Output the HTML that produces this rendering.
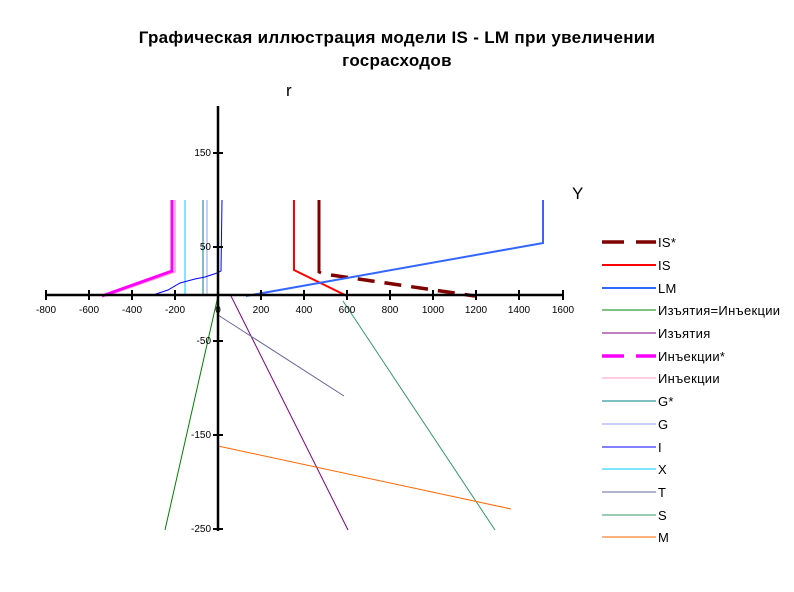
<!DOCTYPE html><html><head><meta charset="utf-8"><style>body{margin:0;background:#fff}svg{display:block}</style></head><body>
<svg width="794" height="592" xmlns="http://www.w3.org/2000/svg" font-family="Liberation Sans, DejaVu Sans, sans-serif">
<rect width="794" height="592" fill="#fff"/>
<text x="397" y="43" font-size="17" font-weight="bold" text-anchor="middle" letter-spacing="0.3">Графическая иллюстрация модели IS - LM при увеличении</text>
<text x="397" y="66" font-size="17" font-weight="bold" text-anchor="middle" letter-spacing="0.3">госрасходов</text>
<text x="286" y="96" font-size="17">r</text>
<text x="572" y="199" font-size="17">Y</text>
<g fill="none" stroke-width="1">
<line x1="218" y1="296" x2="165" y2="530" stroke="#008000"/>
<line x1="231" y1="296" x2="348" y2="530" stroke="#800080"/>
<line x1="218" y1="315" x2="344" y2="396" stroke="#666699"/>
<line x1="343" y1="301" x2="495" y2="530" stroke="#339966"/>
<line x1="218" y1="446" x2="511" y2="509" stroke="#ff6600"/>
<line x1="185" y1="200" x2="185" y2="295" stroke="#00ccff"/>
<line x1="203" y1="200" x2="203" y2="295" stroke="#008080"/>
<line x1="207" y1="200" x2="207" y2="295" stroke="#9999ff"/>
<polyline points="153,295 168,290 180,283 195,279 205,277 217,273 221,271 222,200" stroke="#0000ff"/>
<polyline points="175,200 175,272 106,296" stroke="#ff99cc" stroke-width="1.5"/>
<polyline points="172,200 172,271 102,296" stroke="#ff00ff" stroke-width="3"/>
<polyline points="294,200 294,270 347,296" stroke="#ff0000" stroke-width="2"/>
<polyline points="319,200 319,272 321,273" stroke="#800000" stroke-width="3"/>
<line x1="331" y1="275" x2="475" y2="296" stroke="#800000" stroke-width="3.5" stroke-dasharray="17,10"/>
<polyline points="246,296 543,243 543,200" stroke="#3366ff" stroke-width="2"/>
</g>
<g stroke="#000" stroke-width="2.5">
<line x1="218" y1="106" x2="218" y2="531"/>
<line x1="45" y1="295" x2="564" y2="295"/>
</g>
<g stroke="#000" stroke-width="2">
<line x1="46" y1="290" x2="46" y2="300"/><line x1="89" y1="290" x2="89" y2="300"/><line x1="132" y1="290" x2="132" y2="300"/><line x1="175" y1="290" x2="175" y2="300"/><line x1="261" y1="290" x2="261" y2="300"/><line x1="304" y1="290" x2="304" y2="300"/><line x1="347" y1="290" x2="347" y2="300"/><line x1="390" y1="290" x2="390" y2="300"/><line x1="433" y1="290" x2="433" y2="300"/><line x1="476" y1="290" x2="476" y2="300"/><line x1="519" y1="290" x2="519" y2="300"/><line x1="563" y1="290" x2="563" y2="300"/>
<line x1="213" y1="153" x2="223" y2="153"/><line x1="213" y1="247" x2="223" y2="247"/><line x1="213" y1="341" x2="223" y2="341"/><line x1="213" y1="435" x2="223" y2="435"/><line x1="213" y1="529" x2="223" y2="529"/>
</g>
<g font-size="10" text-anchor="middle">
<text x="46" y="313">-800</text><text x="89" y="313">-600</text><text x="132" y="313">-400</text><text x="175" y="313">-200</text><text x="218" y="313">0</text><text x="261" y="313">200</text><text x="304" y="313">400</text><text x="347" y="313">600</text><text x="390" y="313">800</text><text x="433" y="313">1000</text><text x="476" y="313">1200</text><text x="519" y="313">1400</text><text x="563" y="313">1600</text>
</g>
<g font-size="10" text-anchor="end">
<text x="211" y="156">150</text><text x="211" y="250">50</text><text x="211" y="344">-50</text><text x="211" y="438">-150</text><text x="211" y="532">-250</text>
</g>
<g fill="none">
<line x1="602" y1="242" x2="656" y2="242" stroke="#800000" stroke-width="3.5" stroke-dasharray="22,12"/>
<line x1="602" y1="265" x2="656" y2="265" stroke="#ff0000" stroke-width="2"/>
<line x1="602" y1="288" x2="656" y2="288" stroke="#3366ff" stroke-width="2"/>
<line x1="602" y1="310" x2="656" y2="310" stroke="#008000"/>
<line x1="602" y1="333" x2="656" y2="333" stroke="#800080"/>
<line x1="602" y1="356" x2="656" y2="356" stroke="#ff00ff" stroke-width="3.5" stroke-dasharray="22,12"/>
<line x1="602" y1="378" x2="656" y2="378" stroke="#ff99cc"/>
<line x1="602" y1="401" x2="656" y2="401" stroke="#008080"/>
<line x1="602" y1="424" x2="656" y2="424" stroke="#9999ff"/>
<line x1="602" y1="447" x2="656" y2="447" stroke="#0000ff"/>
<line x1="602" y1="469" x2="656" y2="469" stroke="#00ccff"/>
<line x1="602" y1="492" x2="656" y2="492" stroke="#666699"/>
<line x1="602" y1="515" x2="656" y2="515" stroke="#339966"/>
<line x1="602" y1="537" x2="656" y2="537" stroke="#ff6600"/>
</g>
<g font-size="13" letter-spacing="0.3">
<text x="658" y="247">IS*</text><text x="658" y="270">IS</text><text x="658" y="293">LM</text><text x="658" y="315">Изъятия=Инъекции</text><text x="658" y="338">Изъятия</text><text x="658" y="361">Инъекции*</text><text x="658" y="383">Инъекции</text><text x="658" y="406">G*</text><text x="658" y="429">G</text><text x="658" y="452">I</text><text x="658" y="474">X</text><text x="658" y="497">T</text><text x="658" y="520">S</text><text x="658" y="542">M</text>
</g>
</svg>
</body></html>
